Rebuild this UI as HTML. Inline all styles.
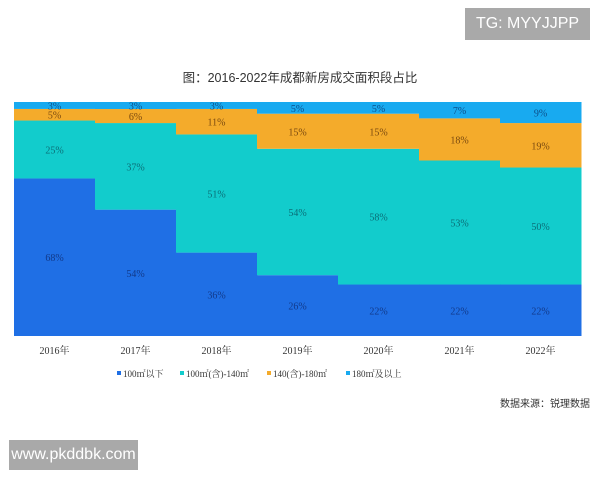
<!DOCTYPE html>
<html><head><meta charset="utf-8"><style>
body{margin:0;background:#fff;width:600px;height:480px;overflow:hidden;position:relative;font-family:"Liberation Sans","Noto Sans CJK SC",sans-serif}
.box{position:absolute;background:#a9a9a9;color:#fff;font-size:16px;display:flex;align-items:center;justify-content:center}
</style></head><body>
<div class="box" style="left:465px;top:8px;width:125px;height:32px">TG: MYYJJPP</div>
<div class="box" style="left:9px;top:440px;width:129px;height:30px">www.pkddbk.com</div>
<svg id="c" width="600" height="480" style="position:absolute;left:0;top:0"></svg>
<script>
const years=["2016年","2017年","2018年","2019年","2020年","2021年","2022年"];
const s100=[68,54,36,26,22,22,22];
const s140=[25,37,51,54,58,53,50];
const s180=[5,6,11,15,15,18,19];
const sUp=[3,3,3,5,5,7,9];
const names=["100㎡以下","100㎡(含)-140㎡","140(含)-180㎡","180㎡及以上"];
const colors=["#1f6fe5","#12cccc","#f4ab2b","#18aaf0"];
const textCol=["#123a8a","#0b6f78","#7a4a10","#0d4f8a"];
const series=[s100,s140,s180,sUp];
const svg=document.getElementById('c');const NS="http://www.w3.org/2000/svg";
function mk(t,a,p){const e=document.createElementNS(NS,t);for(const k in a)e.setAttribute(k,a[k]);(p||svg).appendChild(e);return e;}
const L=14,R=581,T=102,B=336,bw=(R-L)/years.length;
const x=i=>L+i*bw, y=f=>B-f*(B-T);
let t=mk('text',{x:300,y:82,'text-anchor':'middle','font-size':12.5,fill:'#333'});t.textContent="图：2016-2022年成都新房成交面积段占比";

years.forEach((yr,i)=>{
  const tot=series.reduce((a,s)=>a+s[i],0);let acc=0;
  series.forEach((s,k)=>{
    const f0=acc/tot,f1=(acc+s[i])/tot;acc+=s[i];
    const r=mk('rect',{x:x(i),y:y(f1),width:bw+0.5,height:y(f0)-y(f1),fill:colors[k]});
    
    const l=mk('text',{x:x(i)+bw/2,y:(y(f0)+y(f1))/2+4,'text-anchor':'middle','font-size':10,fill:textCol[k],'font-family':'Liberation Serif,serif'});
    l.textContent=s[i]+'%';
  });
  const xl=mk('text',{x:x(i)+bw/2,y:354,'text-anchor':'middle','font-size':10,fill:'#333','font-family':'Liberation Serif,"Noto Serif CJK SC",serif'});
  xl.textContent=yr;
});
const lx=[117,180,267,346];
names.forEach((n,k)=>{
  const g=mk('g',{});
  mk('rect',{x:lx[k],y:371,width:4,height:4,fill:colors[k]},g);
  const tt=mk('text',{x:lx[k]+6,y:377,'font-size':9,fill:'#333','font-family':'Liberation Serif,"Noto Serif CJK SC",serif'},g);tt.textContent=n;
});
const src=mk('text',{x:590,y:407,'text-anchor':'end','font-size':10,fill:'#333'});src.textContent="数据来源：锐理数据";

</script>
</body></html>
